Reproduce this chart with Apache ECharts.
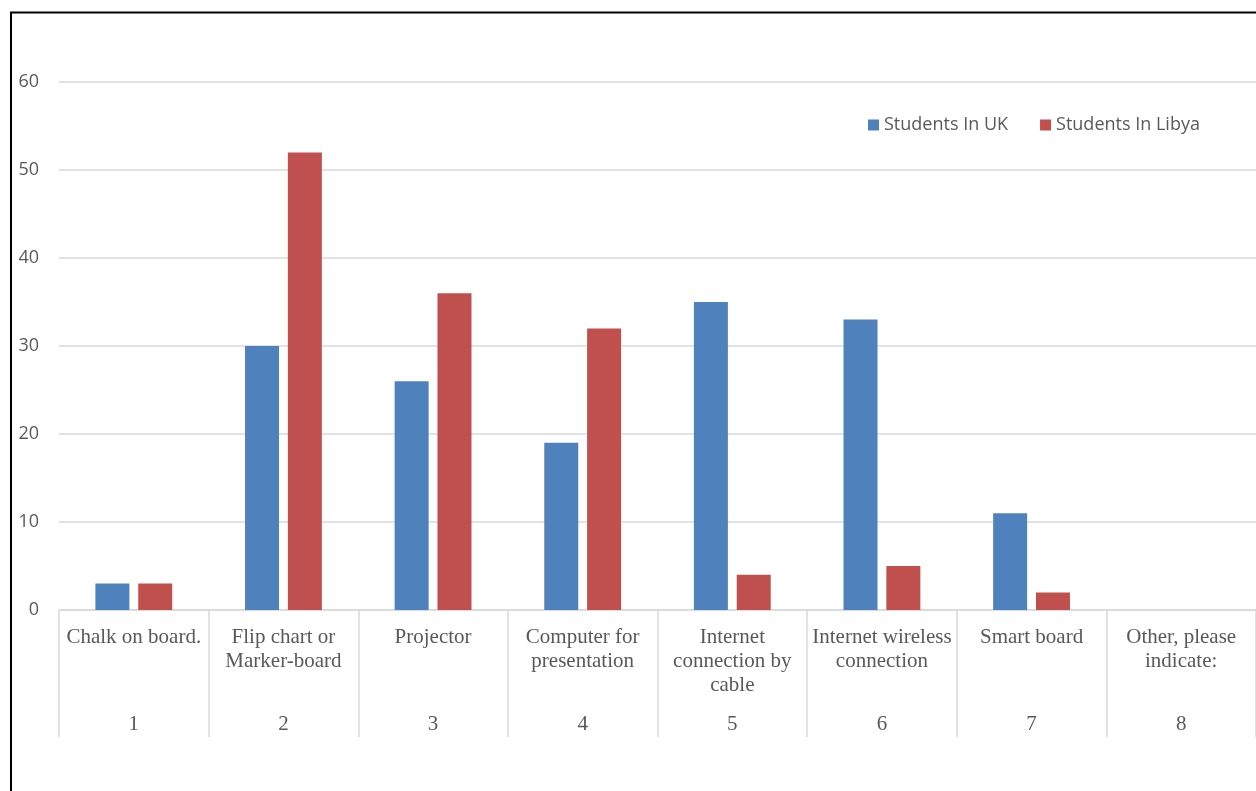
<!DOCTYPE html>
<html>
<head>
<meta charset="utf-8">
<script src="https://cdn.jsdelivr.net/npm/echarts@6/dist/echarts.min.js"></script>
<style>
html,body{margin:0;padding:0;background:#fff;}
#chart{width:1256px;height:791px;}
</style>
</head>
<body>
<div id="chart"></div>
<script>
const categories = [
  "Chalk on board.",
  "Flip chart or\nMarker-board",
  "Projector",
  "Computer for\npresentation",
  "Internet\nconnection by\ncable",
  "Internet wireless\nconnection",
  "Smart board",
  "Other, please\nindicate:"
];
const categoryNumbers = ["1","2","3","4","5","6","7","8"];
const studentsUK = [3, 30, 26, 19, 35, 33, 11, 0];
const studentsLibya = [3, 52, 36, 32, 4, 5, 2, 0];
const yTicks = {min: 0, max: 60, interval: 10};

const chart = echarts.init(document.getElementById('chart'), null, {renderer: 'canvas'});
const serif = '"Liberation Serif", "Times New Roman", serif';
const sans = '"Open Sans", "Noto Sans", sans-serif';
chart.setOption({
  animation: false,
  backgroundColor: '#ffffff',
  graphic: [{
    type: 'rect',
    shape: {x: 11, y: 12.5, width: 1400, height: 900},
    style: {fill: 'none', stroke: '#000000', lineWidth: 2},
    silent: true,
    z: 100
  }],
  legend: {
    left: 863,
    top: 111,
    itemWidth: 11,
    itemHeight: 11,
    itemGap: 32,
    icon: 'rect',
    textStyle: {fontFamily: sans, fontSize: 18, color: '#595959', padding: [0, 0, 0, 0]},
    data: ['Students In UK', 'Students In Libya']
  },
  grid: {left: 59, top: 82, width: 1197, height: 528, containLabel: false},
  xAxis: [{
    type: 'category',
    data: categories,
    position: 'bottom',
    axisLine: {show: true, lineStyle: {color: '#d9d9d9', width: 1.5}},
    axisTick: {show: true, length: 127, interval: 0, lineStyle: {color: '#d9d9d9', width: 1.5}},
    axisLabel: {
      interval: 0,
      margin: 15,
      fontFamily: serif,
      fontSize: 21,
      lineHeight: 24,
      color: '#595959'
    },
    splitLine: {show: false}
  }, {
    type: 'category',
    data: categoryNumbers,
    position: 'bottom',
    axisLine: {show: false},
    axisTick: {show: false},
    axisLabel: {
      interval: 0,
      margin: 102,
      fontFamily: serif,
      fontSize: 21,
      lineHeight: 24,
      color: '#595959'
    }
  }],
  yAxis: {
    type: 'value',
    min: yTicks.min,
    max: yTicks.max,
    interval: yTicks.interval,
    axisLine: {show: false},
    axisTick: {show: false},
    axisLabel: {margin: 20, fontFamily: sans, fontSize: 18, color: '#595959', padding: [4, 0, 0, 0]},
    splitLine: {lineStyle: {color: '#d9d9d9', width: 1.5}}
  },
  series: [{
    name: 'Students In UK',
    type: 'bar',
    xAxisIndex: 0,
    data: studentsUK,
    barWidth: 34,
    barGap: '26%',
    itemStyle: {color: '#4F81BD'}
  }, {
    name: 'Students In Libya',
    type: 'bar',
    xAxisIndex: 0,
    data: studentsLibya,
    barWidth: 34,
    barGap: '26%',
    itemStyle: {color: '#C0504D'}
  }]
});
</script>
</body>
</html>
